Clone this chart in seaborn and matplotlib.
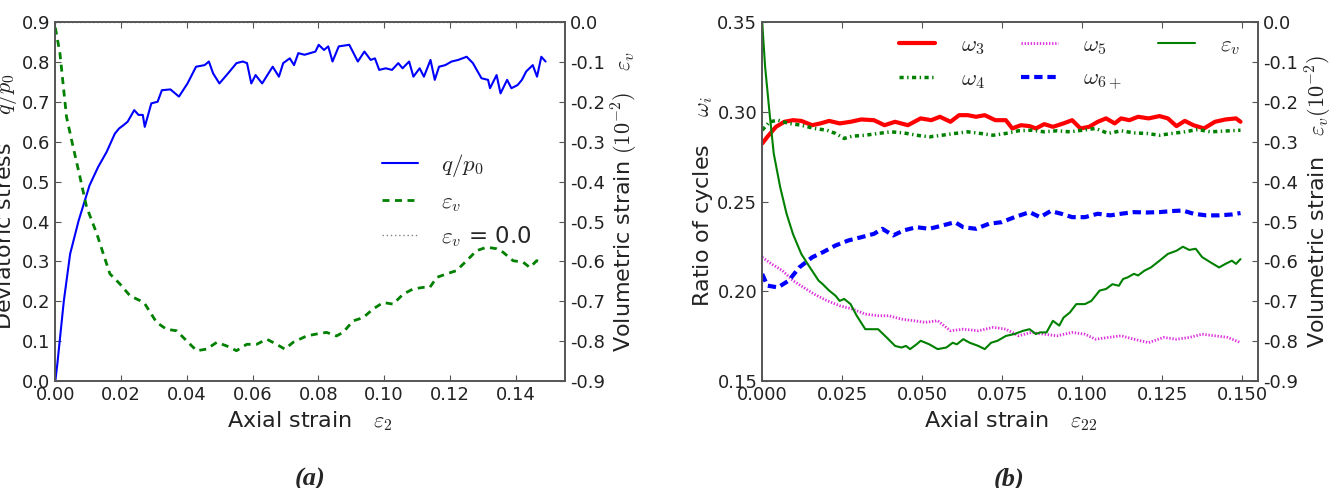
import matplotlib
matplotlib.use("Agg")
import matplotlib.pyplot as plt
from matplotlib.ticker import FormatStrFormatter, MultipleLocator
import seaborn as sns

# ---------------- data: panel (a) ----------------
q_x = [0.0000, 0.0006, 0.0026, 0.0045, 0.0071, 0.0104, 0.0130, 0.0156, 0.0181, 0.0194,
       0.0207, 0.0220, 0.0240, 0.0253, 0.0266, 0.0272, 0.0292, 0.0311, 0.0324, 0.0350,
       0.0376, 0.0402, 0.0428, 0.0454, 0.0467, 0.0480, 0.0499, 0.0525, 0.0551, 0.0570,
       0.0583, 0.0596, 0.0609, 0.0629, 0.0648, 0.0661, 0.0680, 0.0693, 0.0713, 0.0726,
       0.0739, 0.0758, 0.0791, 0.0801, 0.0817, 0.0830, 0.0843, 0.0862, 0.0894, 0.0920,
       0.0940, 0.0959, 0.0972, 0.0985, 0.1005, 0.1024, 0.1043, 0.1056, 0.1076, 0.1089,
       0.1108, 0.1121, 0.1141, 0.1154, 0.1167, 0.1186, 0.1205, 0.1225, 0.1251, 0.1270,
       0.1296, 0.1316, 0.1322, 0.1342, 0.1354, 0.1374, 0.1387, 0.1406, 0.1419, 0.1432,
       0.1452, 0.1465, 0.1478, 0.1491]
q_p0 = [0.000, 0.042, 0.202, 0.319, 0.403, 0.491, 0.537, 0.575, 0.621, 0.634,
        0.642, 0.651, 0.680, 0.668, 0.668, 0.638, 0.697, 0.701, 0.730, 0.732,
        0.714, 0.747, 0.789, 0.793, 0.802, 0.772, 0.747, 0.772, 0.798, 0.802,
        0.798, 0.747, 0.768, 0.747, 0.772, 0.789, 0.764, 0.798, 0.810, 0.793,
        0.823, 0.819, 0.827, 0.844, 0.831, 0.840, 0.802, 0.840, 0.844, 0.802,
        0.827, 0.806, 0.810, 0.781, 0.785, 0.781, 0.798, 0.785, 0.802, 0.764,
        0.785, 0.764, 0.806, 0.756, 0.789, 0.793, 0.802, 0.806, 0.814, 0.798,
        0.760, 0.756, 0.735, 0.768, 0.722, 0.756, 0.735, 0.743, 0.756, 0.777,
        0.793, 0.764, 0.814, 0.802]

ev_a_x = [0.0000, 0.0014, 0.0034, 0.0054, 0.0075, 0.0095, 0.0126, 0.0146, 0.0166, 0.0196,
          0.0227, 0.0257, 0.0272, 0.0308, 0.0338, 0.0369, 0.0399, 0.0430, 0.0460, 0.0491,
          0.0521, 0.0551, 0.0582, 0.0612, 0.0643, 0.0673, 0.0698, 0.0723, 0.0764, 0.0795,
          0.0825, 0.0855, 0.0875, 0.0906, 0.0936, 0.0967, 0.0997, 0.1027, 0.1058, 0.1088,
          0.1119, 0.1139, 0.1160, 0.1190, 0.1220, 0.1251, 0.1281, 0.1312, 0.1342, 0.1362,
          0.1392, 0.1423, 0.1443, 0.1464, 0.1484]
ev_a = [-0.013, -0.077, -0.237, -0.312, -0.388, -0.463, -0.530, -0.581, -0.631, -0.656,
        -0.686, -0.698, -0.706, -0.753, -0.770, -0.774, -0.799, -0.824, -0.820, -0.803,
        -0.812, -0.824, -0.808, -0.808, -0.795, -0.808, -0.820, -0.803, -0.787, -0.782,
        -0.778, -0.787, -0.778, -0.749, -0.741, -0.719, -0.703, -0.707, -0.682, -0.669,
        -0.665, -0.665, -0.640, -0.631, -0.623, -0.598, -0.573, -0.564, -0.568, -0.577,
        -0.598, -0.602, -0.615, -0.598, -0.602]
ev_ref = 0.0

# ---------------- data: panel (b) ----------------
ev_b_x = [0.0000, 0.0009, 0.0023, 0.0036, 0.0056, 0.0076, 0.0096, 0.0122, 0.0149, 0.0176,
          0.0189, 0.0209, 0.0229, 0.0242, 0.0256, 0.0276, 0.0295, 0.0322, 0.0362, 0.0389,
          0.0415, 0.0435, 0.0449, 0.0462, 0.0482, 0.0495, 0.0522, 0.0548, 0.0575, 0.0595,
          0.0608, 0.0628, 0.0648, 0.0675, 0.0695, 0.0715, 0.0735, 0.0761, 0.0788, 0.0815,
          0.0835, 0.0855, 0.0868, 0.0888, 0.0908, 0.0928, 0.0941, 0.0961, 0.0981, 0.1008,
          0.1028, 0.1054, 0.1074, 0.1094, 0.1114, 0.1127, 0.1141, 0.1161, 0.1174, 0.1194,
          0.1214, 0.1241, 0.1267, 0.1294, 0.1314, 0.1334, 0.1354, 0.1374, 0.1400, 0.1427,
          0.1447, 0.1467, 0.1480, 0.1494]
ev_b = [0.000, -0.111, -0.228, -0.329, -0.413, -0.480, -0.531, -0.581, -0.615, -0.648,
        -0.657, -0.673, -0.686, -0.699, -0.694, -0.707, -0.736, -0.770, -0.770, -0.791,
        -0.812, -0.816, -0.812, -0.820, -0.808, -0.799, -0.808, -0.820, -0.816, -0.804,
        -0.808, -0.795, -0.804, -0.812, -0.820, -0.804, -0.799, -0.787, -0.782, -0.774,
        -0.770, -0.782, -0.778, -0.778, -0.749, -0.761, -0.741, -0.728, -0.707, -0.707,
        -0.699, -0.673, -0.669, -0.657, -0.661, -0.644, -0.640, -0.631, -0.635, -0.623,
        -0.615, -0.598, -0.581, -0.573, -0.563, -0.571, -0.568, -0.589, -0.602, -0.615,
        -0.606, -0.598, -0.606, -0.594]

w3_x = [0.0000, 0.0016, 0.0043, 0.0069, 0.0096, 0.0122, 0.0156, 0.0182, 0.0209, 0.0242,
        0.0276, 0.0309, 0.0349, 0.0382, 0.0415, 0.0455, 0.0495, 0.0528, 0.0555, 0.0588,
        0.0615, 0.0642, 0.0668, 0.0695, 0.0728, 0.0761, 0.0781, 0.0808, 0.0835, 0.0855,
        0.0881, 0.0908, 0.0941, 0.0968, 0.0994, 0.1021, 0.1048, 0.1074, 0.1101, 0.1121,
        0.1147, 0.1174, 0.1207, 0.1241, 0.1267, 0.1294, 0.1320, 0.1347, 0.1380, 0.1414,
        0.1447, 0.1480, 0.1494]
w3 = [0.2825, 0.2862, 0.2918, 0.2946, 0.2955, 0.2951, 0.2927, 0.2937, 0.2951, 0.2937,
      0.2946, 0.2959, 0.2955, 0.2927, 0.2946, 0.2927, 0.2965, 0.2955, 0.2974, 0.2946,
      0.2983, 0.2983, 0.2974, 0.2983, 0.2955, 0.2955, 0.2909, 0.2927, 0.2922, 0.2909,
      0.2933, 0.2918, 0.2937, 0.2955, 0.2909, 0.2918, 0.2946, 0.2965, 0.2937, 0.2965,
      0.2955, 0.2974, 0.2965, 0.2978, 0.2965, 0.2922, 0.2951, 0.2927, 0.2909, 0.2946,
      0.2959, 0.2965, 0.2946]

w4_x = [0.0000, 0.0023, 0.0049, 0.0083, 0.0122, 0.0162, 0.0202, 0.0229, 0.0256, 0.0282,
        0.0322, 0.0362, 0.0402, 0.0442, 0.0482, 0.0522, 0.0562, 0.0602, 0.0642, 0.0682,
        0.0721, 0.0761, 0.0801, 0.0841, 0.0881, 0.0921, 0.0961, 0.1001, 0.1041, 0.1081,
        0.1121, 0.1161, 0.1201, 0.1241, 0.1280, 0.1320, 0.1360, 0.1400, 0.1440, 0.1494]
w4 = [0.2899, 0.2946, 0.2955, 0.2937, 0.2927, 0.2909, 0.2899, 0.2881, 0.2853, 0.2866,
      0.2871, 0.2881, 0.2890, 0.2884, 0.2871, 0.2862, 0.2871, 0.2881, 0.2890, 0.2881,
      0.2871, 0.2881, 0.2896, 0.2899, 0.2890, 0.2896, 0.2890, 0.2899, 0.2909, 0.2881,
      0.2896, 0.2884, 0.2881, 0.2871, 0.2881, 0.2890, 0.2903, 0.2890, 0.2894, 0.2899]

w5_x = [0.0000, 0.0029, 0.0063, 0.0096, 0.0129, 0.0162, 0.0202, 0.0242, 0.0282, 0.0322,
        0.0362, 0.0395, 0.0435, 0.0475, 0.0508, 0.0548, 0.0588, 0.0628, 0.0675, 0.0721,
        0.0761, 0.0801, 0.0841, 0.0881, 0.0921, 0.0968, 0.1008, 0.1041, 0.1081, 0.1121,
        0.1161, 0.1207, 0.1254, 0.1294, 0.1334, 0.1374, 0.1414, 0.1454, 0.1494]
w5 = [0.2190, 0.2153, 0.2116, 0.2060, 0.2022, 0.1985, 0.1948, 0.1920, 0.1901, 0.1873,
      0.1864, 0.1864, 0.1845, 0.1836, 0.1827, 0.1836, 0.1780, 0.1789, 0.1780, 0.1799,
      0.1789, 0.1752, 0.1771, 0.1761, 0.1752, 0.1771, 0.1761, 0.1733, 0.1743, 0.1752,
      0.1733, 0.1714, 0.1743, 0.1733, 0.1743, 0.1761, 0.1752, 0.1743, 0.1714]

w6_x = [0.0000, 0.0016, 0.0049, 0.0083, 0.0116, 0.0156, 0.0189, 0.0229, 0.0269, 0.0309,
        0.0349, 0.0375, 0.0409, 0.0442, 0.0482, 0.0522, 0.0562, 0.0602, 0.0628, 0.0668,
        0.0708, 0.0748, 0.0788, 0.0835, 0.0868, 0.0901, 0.0934, 0.0968, 0.1008, 0.1048,
        0.1087, 0.1121, 0.1161, 0.1201, 0.1241, 0.1280, 0.1314, 0.1347, 0.1387, 0.1427,
        0.1467, 0.1494]
w6 = [0.2097, 0.2032, 0.2022, 0.2060, 0.2134, 0.2190, 0.2218, 0.2256, 0.2284, 0.2302,
      0.2321, 0.2349, 0.2312, 0.2340, 0.2358, 0.2349, 0.2367, 0.2386, 0.2358, 0.2349,
      0.2377, 0.2386, 0.2414, 0.2442, 0.2414, 0.2448, 0.2433, 0.2414, 0.2414, 0.2433,
      0.2424, 0.2433, 0.2442, 0.2440, 0.2442, 0.2448, 0.2451, 0.2433, 0.2424, 0.2424,
      0.2429, 0.2437]

# ---------------- colours ----------------
BLUE = "#0000ff"
GREEN = "#008000"
RED = "#ff0000"
MAGENTA = "#dd33dd"

# ---------------- style ----------------
sns.set_theme(style="ticks")
plt.rcParams.update({
    "font.family": ["DejaVu Sans"],
    "mathtext.fontset": "cm",
    "axes.unicode_minus": False,
    "xtick.direction": "in",
    "ytick.direction": "in",
    "xtick.major.size": 4,
    "ytick.major.size": 4,
    "xtick.major.width": 0.8,
    "ytick.major.width": 0.8,
    "axes.edgecolor": "#555555",
    "axes.linewidth": 1.2,
    "xtick.color": "#555555",
    "ytick.color": "#555555",
    "xtick.labelcolor": "#222222",
    "ytick.labelcolor": "#222222",
    "axes.labelcolor": "#222222",
    "lines.scale_dashes": False,
    "xtick.labelsize": 13,
    "ytick.labelsize": 13,
    "axes.labelsize": 16,
})

fig = plt.figure(figsize=(13.3, 4.88), dpi=100)
bot, top = 0.2193, 0.9539
axA = fig.add_axes([0.0416, bot, 0.3832, top - bot])
axB = fig.add_axes([0.5731, bot, 0.3731, top - bot])

XMAX = 0.155

# ---- panel (a) ----
sns.lineplot(x=q_x, y=q_p0, ax=axA, color=BLUE, lw=1.5, label=r"$q/p_0$", legend=False)
axA.set_xlim(0, XMAX)
axA.set_ylim(0, 0.9)
axA.xaxis.set_major_locator(MultipleLocator(0.02))
axA.yaxis.set_major_locator(MultipleLocator(0.1))
axA.xaxis.set_major_formatter(FormatStrFormatter("%.2f"))
axA.yaxis.set_major_formatter(FormatStrFormatter("%.1f"))
axA.set_xlabel(r"Axial strain   $\varepsilon_2$")
axA.set_ylabel(r"Deviatoric stress    $q/p_0$", labelpad=2)
axA.tick_params(top=True, right=False)

axA2 = axA.twinx()
sns.lineplot(x=ev_a_x, y=ev_a, ax=axA2, color=GREEN, lw=2, linestyle=(0, (5, 4)),
             label=r"$\varepsilon_v$", legend=False)
axA2.axhline(ev_ref, color="grey", lw=1, linestyle=(0, (1, 2)), label=r"$\varepsilon_v$ = 0.0")
axA2.set_xlim(0, XMAX)
axA2.set_ylim(-0.9, 0.0)
axA2.yaxis.set_major_locator(MultipleLocator(0.1))
axA2.yaxis.set_major_formatter(FormatStrFormatter("%.1f"))
axA2.set_ylabel(r"Volumetric strain $(10^{-2})$   $\varepsilon_v$")
for s in axA2.spines.values():
    s.set_color("#555555")
    s.set_linewidth(1.2)

hA = axA.get_legend_handles_labels()
hA2 = axA2.get_legend_handles_labels()
axA2.legend(hA[0] + hA2[0], hA[1] + hA2[1], loc="center left",
            bbox_to_anchor=(0.64, 0.503), frameon=False, fontsize=16.5,
            handlelength=1.6, handletextpad=1.0, labelspacing=0.45,
            borderpad=0, borderaxespad=0)

# ---- panel (b) ----
sns.lineplot(x=w3_x, y=w3, ax=axB, color=RED, lw=3, label=r"$\omega_3$", legend=False)
sns.lineplot(x=w4_x, y=w4, ax=axB, color=GREEN, lw=2.5, linestyle=(0, (3, 2.5, 1, 2.5)),
             label=r"$\omega_4$", legend=False)
sns.lineplot(x=w5_x, y=w5, ax=axB, color=MAGENTA, lw=2, linestyle=(0, (1, 1.2)),
             label=r"$\omega_5$", legend=False)
sns.lineplot(x=w6_x, y=w6, ax=axB, color=BLUE, lw=3, linestyle=(0, (6, 3.5)),
             label=r"$\omega_{6+}$", legend=False)
axB.set_xlim(0, XMAX)
axB.set_ylim(0.15, 0.35)
axB.xaxis.set_major_locator(MultipleLocator(0.025))
axB.yaxis.set_major_locator(MultipleLocator(0.05))
axB.xaxis.set_major_formatter(FormatStrFormatter("%.3f"))
axB.yaxis.set_major_formatter(FormatStrFormatter("%.2f"))
axB.set_xlabel(r"Axial strain   $\varepsilon_{22}$")
axB.set_ylabel(r"Ratio of cycles    $\omega_i$", labelpad=2)
axB.tick_params(top=True, right=False)

axB2 = axB.twinx()
sns.lineplot(x=ev_b_x, y=ev_b, ax=axB2, color=GREEN, lw=1.5, label=r"$\varepsilon_v$", legend=False)
axB2.set_xlim(0, XMAX)
axB2.set_ylim(-0.9, 0.0)
axB2.yaxis.set_major_locator(MultipleLocator(0.1))
axB2.yaxis.set_major_formatter(FormatStrFormatter("%.1f"))
axB2.set_ylabel(r"Volumetric strain   $\varepsilon_v(10^{-2})$")
for s in axB2.spines.values():
    s.set_color("#555555")
    s.set_linewidth(1.2)

hB = axB.get_legend_handles_labels()
hB2 = axB2.get_legend_handles_labels()
axB2.legend(hB[0] + hB2[0], hB[1] + hB2[1], loc="center left",
            bbox_to_anchor=(0.275, 0.888), frameon=False, fontsize=16.5, ncol=3,
            handlelength=1.6, handletextpad=1.1, labelspacing=0.45,
            columnspacing=1.6, borderpad=0, borderaxespad=0)

# ---- panel captions ----
fig.text(0.233, 0.041, "(a)", ha="center", va="top", fontsize=19,
         fontweight="bold", fontstyle="italic", family=["Liberation Serif", "DejaVu Serif"])
fig.text(0.759, 0.041, "(b)", ha="center", va="top", fontsize=19,
         fontweight="bold", fontstyle="italic", family=["Liberation Serif", "DejaVu Serif"])

fig.savefig("out.png", dpi=100)
